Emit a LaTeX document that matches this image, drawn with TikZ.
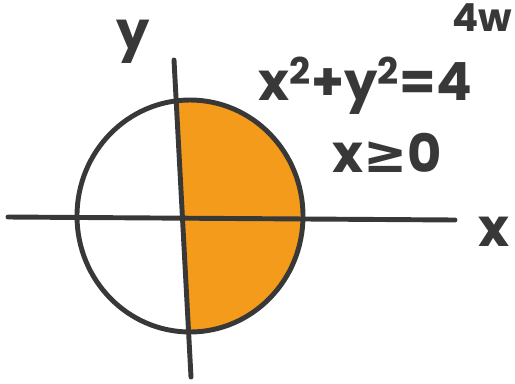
\documentclass[tikz,border=0pt]{standalone}
\usepackage{fontspec}
\setmainfont{Poppins}
\newfontfamily\symfont{DejaVu Sans}
\usetikzlibrary{positioning}
\definecolor{cInk}{HTML}{383838}
\definecolor{cFill}{HTML}{F59B1C}
\tikzset{
  ink/.style={draw=cInk,line width=2.8pt,line cap=round},
  hand/.style={text=cInk,font=\fontsize{30}{34}\selectfont\bfseries,inner sep=0pt},
}

\begin{document}
\begin{tikzpicture}[x=0.02cm,y=-0.02cm]
  \useasboundingbox (0,0) rectangle (515,383);
  \coordinate (O) at (190,216);
  \coordinate (xl) at (8,217);\coordinate (xr) at (455,220);
  \coordinate (yt) at (174,60);\coordinate (yb) at (191,377);
  % right half, x >= 0
  \begin{scope}
    \clip (yt)--(yb)--(330,377)--(330,60)--cycle;
    \fill[cFill] (O) ellipse [x radius=113,y radius=116];
  \end{scope}
  \draw[ink] (O) ellipse [x radius=113,y radius=116];
  \draw[ink] (xl)--(xr);\draw[ink] (yt)--(yb);
  \node[hand] (ylab) at (133,42) {y};
  \node[hand] (xlab) at (494,232) {x};
  \node[hand,anchor=base west] (eq) at (258,100) {x\textsuperscript{2}+y\textsuperscript{2}=4};
  \node[hand,anchor=base west] (cond) at (332,172) {x{\symfont≥}0};
  \node[hand,anchor=north east,font=\fontsize{22}{26}\selectfont\bfseries] (cut) at (512,3) {4w};
\end{tikzpicture}
\end{document}
